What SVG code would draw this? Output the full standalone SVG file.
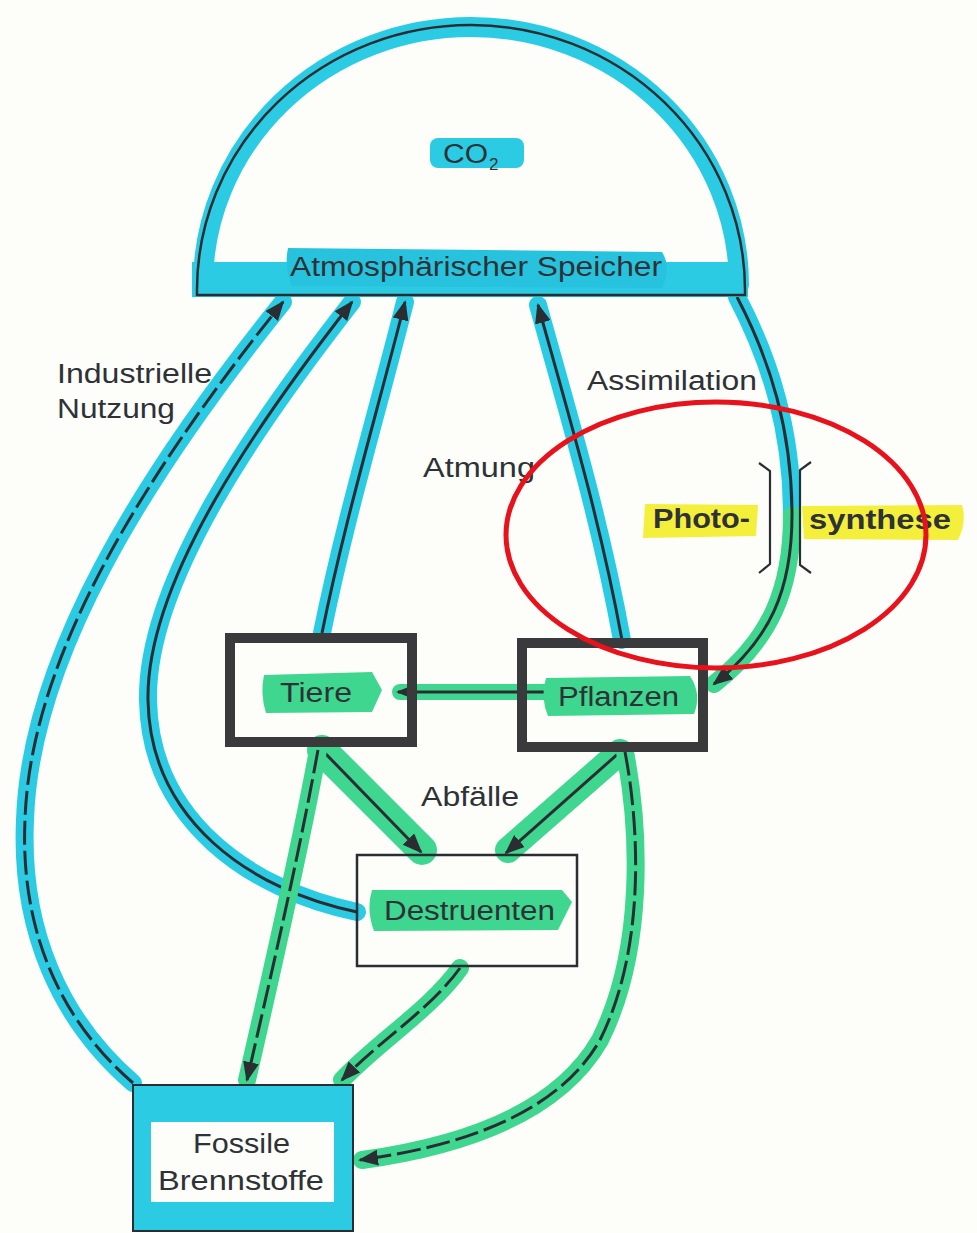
<svg xmlns="http://www.w3.org/2000/svg" width="977" height="1233" viewBox="0 0 977 1233">
<defs>
<style>
.t{font-family:"Liberation Sans",Arial,sans-serif;fill:#2e3236;font-size:27px}
.b{font-weight:bold}
.cy{stroke:#2ccbe4;fill:none;stroke-width:18;stroke-linecap:round;stroke-linejoin:round}
.gr{stroke:#3fd68f;fill:none;stroke-width:18;stroke-linecap:round;stroke-linejoin:round}
.ln{stroke:#2a2e33;fill:none;stroke-width:3}
.ds{stroke-dasharray:24 6}
.hc{fill:#2ccbe4}
.hg{fill:#3fd68f}
.hy{fill:#f4ef3a}
</style>
<marker id="ah" markerUnits="userSpaceOnUse" markerWidth="22" markerHeight="18" refX="18" refY="8" orient="auto">
<path d="M0,0 L20,8 L0,16 Z" fill="#2a2e33"/>
</marker>
</defs>
<rect width="977" height="1233" fill="#fdfdf9"/>

<g id="connectors">
<!-- Industrielle Nutzung (dashed, cyan) -->
<path class="cy" d="M133,1083 C60,1020 20,930 25,820 C30,660 140,480 283,302"/>
<path class="ln ds" d="M133,1083 C60,1020 20,930 25,820 C30,660 140,480 283,302" marker-end="url(#ah)"/>
<!-- Destruenten to atmosphere -->
<path class="cy" d="M357,912 C250,890 150,820 148,700 C146,580 260,420 352,302"/>
<path class="ln" d="M357,912 C250,890 150,820 148,700 C146,580 260,420 352,302" marker-end="url(#ah)"/>
<!-- Tiere to atmosphere -->
<path class="cy" d="M322,633 C345,520 375,420 405,302"/>
<path class="ln" d="M322,633 C345,520 375,420 405,302" marker-end="url(#ah)"/>
<!-- Pflanzen to atmosphere -->
<path class="cy" d="M622,640 C600,520 570,420 538,305"/>
<path class="ln" d="M622,640 C600,520 570,420 538,305" marker-end="url(#ah)"/>
<!-- Photosynthese: atmosphere to Pflanzen -->
<path class="cy" d="M737,297 C770,360 792,430 792,515"/>
<path class="gr" d="M792,515 C792,590 770,640 714,684"/>
<path class="ln" d="M737,297 C770,360 792,430 792,515 C792,590 770,640 714,684" marker-end="url(#ah)"/>
<!-- Pflanzen to Tiere -->
<path class="gr" d="M545,692 L400,692" style="stroke-width:16"/>
<path class="ln" d="M545,692 L398,692" marker-end="url(#ah)"/>
<!-- Tiere to Destruenten -->
<path class="gr" d="M322,750 L422,850" style="stroke-width:30"/>
<path class="ln" d="M322,750 L421,852" marker-end="url(#ah)"/>
<!-- Pflanzen to Destruenten -->
<path class="gr" d="M620,752 L508,850" style="stroke-width:26"/>
<path class="ln" d="M620,752 L506,853" marker-end="url(#ah)"/>
<!-- Tiere to Fossile (dashed) -->
<path class="gr" d="M318,750 C300,850 270,980 247,1080"/>
<path class="ln ds" d="M318,750 C300,850 270,980 247,1080" marker-end="url(#ah)"/>
<!-- Destruenten to Fossile (dashed) -->
<path class="gr" d="M460,968 C430,1010 380,1040 342,1080"/>
<path class="ln ds" d="M460,968 C430,1010 380,1040 342,1080" marker-end="url(#ah)"/>
<!-- Pflanzen to Fossile (dashed) -->
<path class="gr" d="M625,752 C640,830 645,950 600,1040 C560,1110 470,1145 362,1160"/>
<path class="ln ds" d="M625,752 C640,830 645,950 600,1040 C560,1110 470,1145 360,1160" marker-end="url(#ah)"/>
</g>

<g id="atmosphaere">
<path class="cy" d="M203,285 A268,258 0 0 1 739,285" style="stroke-width:20"/>
<rect x="192" y="262" width="556" height="35" class="hc"/>
<path d="M197,295 L197,290 A274,265 0 0 1 745,290 L745,295 Z" fill="none" stroke="#2a2e33" stroke-width="2.5"/>
<rect x="430" y="138" width="94" height="30" rx="8" class="hc"/>
<text class="t" x="443" y="163" textLength="45" lengthAdjust="spacingAndGlyphs">CO</text>
<text class="t" x="489" y="170" style="font-size:17px">2</text>
<path d="M288,248 L662,252 Q672,268 662,288 L292,286 Q284,268 288,248 Z" fill="#27c3de"/>
<text class="t" x="290" y="276" textLength="372" lengthAdjust="spacingAndGlyphs">Atmosphärischer Speicher</text>
</g>

<g id="tiere">
<rect x="230" y="638" width="182" height="104" fill="none" stroke="#3a3a3c" stroke-width="10"/>
<path d="M264,675 L372,672 L382,690 L372,712 L266,713 Q260,694 264,675 Z" class="hg"/>
<text class="t" x="280" y="702" textLength="72" lengthAdjust="spacingAndGlyphs">Tiere</text>
</g>

<g id="pflanzen">
<rect x="522" y="643" width="181" height="104" fill="none" stroke="#3a3a3c" stroke-width="10"/>
<path d="M546,678 L690,676 Q702,694 694,714 L548,716 Q540,697 546,678 Z" class="hg"/>
<text class="t" x="558" y="706" textLength="121" lengthAdjust="spacingAndGlyphs">Pflanzen</text>
</g>

<g id="destruenten">
<rect x="357" y="855" width="220" height="111" fill="none" stroke="#2a2e33" stroke-width="2.5"/>
<path d="M372,890 L562,890 L572,902 L558,930 L374,931 Q366,910 372,890 Z" class="hg"/>
<text class="t" x="384" y="920" textLength="171" lengthAdjust="spacingAndGlyphs">Destruenten</text>
</g>

<g id="fossile">
<rect x="133" y="1085" width="220" height="146" class="hc" stroke="#2a2e33" stroke-width="2"/>
<rect x="151" y="1122" width="183" height="80" fill="#fdfdf9"/>
<text class="t" x="193" y="1153" textLength="97" lengthAdjust="spacingAndGlyphs">Fossile</text>
<text class="t" x="158" y="1190" textLength="166" lengthAdjust="spacingAndGlyphs">Brennstoffe</text>
</g>

<g id="labels">
<text class="t" x="57" y="383" textLength="155" lengthAdjust="spacingAndGlyphs">Industrielle</text>
<text class="t" x="57" y="418" textLength="118" lengthAdjust="spacingAndGlyphs">Nutzung</text>
<text class="t" x="423" y="477" textLength="112" lengthAdjust="spacingAndGlyphs">Atmung</text>
<text class="t" x="587" y="390" textLength="170" lengthAdjust="spacingAndGlyphs">Assimilation</text>
<text class="t" x="421" y="806" textLength="98" lengthAdjust="spacingAndGlyphs">Abfälle</text>
<path d="M645,504 L758,505 L756,536 L643,538 Z" class="hy"/>
<path d="M802,506 L962,505 Q967,522 958,540 L804,539 Z" class="hy"/>
<text class="t b" x="653" y="528" textLength="97" lengthAdjust="spacingAndGlyphs">Photo-</text>
<text class="t b" x="809" y="529" textLength="142" lengthAdjust="spacingAndGlyphs">synthese</text>
<path d="M759,463 L770,471 L770,564 L759,573" fill="none" stroke="#2a2e33" stroke-width="2.2"/>
<path d="M811,462 L800,470 L800,565 L811,573" fill="none" stroke="#2a2e33" stroke-width="2.2"/>
</g>

<g id="markierung">
<ellipse cx="716" cy="535" rx="210" ry="133" fill="none" stroke="#e8121c" stroke-width="5"/>
</g>
</svg>
